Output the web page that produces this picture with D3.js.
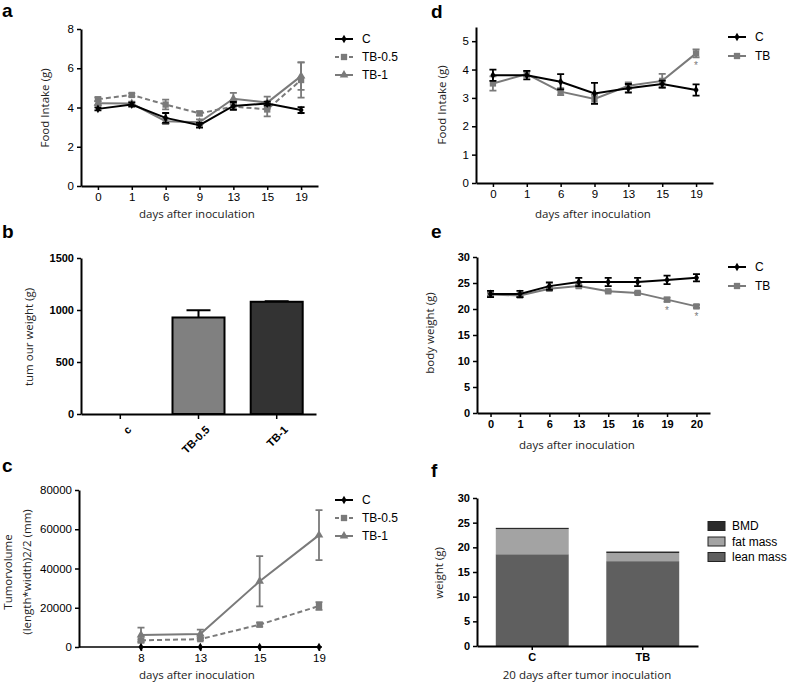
<!DOCTYPE html>
<html>
<head>
<meta charset="utf-8">
<script src="https://cdn.jsdelivr.net/npm/d3@7"></script>
<style>
  body { margin: 0; background: #fff; }
  svg { font-family: "Liberation Sans", Arial, sans-serif; }
  .axis path, .axis line { stroke: #000; }
  .axis path { stroke-width: 2; }
  .axis line { stroke-width: 1.5; }
  .axis text { fill: #000; font-size: 11.5px; }
  .bold text { font-weight: bold; font-size: 11px; }
  .title { font-family: "Open Sans", "DejaVu Sans", sans-serif; font-size: 11.5px; fill: #222; }
  .letter { font-size: 19px; font-weight: bold; }
  .legend text { font-size: 12px; }
</style>
</head>
<body>
<script>
// panel a: food intake, three groups
const daysA = ['0', '1', '6', '9', '13', '15', '19'];
const aC = [3.93, 4.15, 3.47, 3.1, 4.08, 4.2, 3.87];
const aCErr = [0.08, 0.1, 0.25, 0.12, 0.2, 0.1, 0.15];
const aTB05 = [4.42, 4.64, 4.15, 3.7, 4.05, 3.9, 5.4];
const aTB05Err = [0.1, 0.08, 0.25, 0.1, 0.15, 0.35, 0.9];
const aTB1 = [4.22, 4.2, 3.3, 3.25, 4.45, 4.25, 5.6];
const aTB1Err = [0.1, 0.1, 0.15, 0.15, 0.3, 0.3, 0.7];

// panel b: tumour weight
const groupsB = ['c', 'TB-0.5', 'TB-1'];
const tumourWeight = [0, 928, 1079];
const tumourErr = [0, 70, 6];

// panel c: tumour volume
const daysC = ['8', '13', '15', '19'];
const cC = [0, 0, 0, 0];
const cTB05 = [3400, 4000, 11400, 20900];
const cTB05Err = [500, 600, 1000, 2000];
const cTB1 = [6100, 6600, 33500, 57000];
const cTB1Err = [3800, 2300, 12800, 12700];

// panel d: food intake, C vs TB
const daysD = ['0', '1', '6', '9', '13', '15', '19'];
const dC = [3.8, 3.8, 3.57, 3.16, 3.34, 3.49, 3.28];
const dCErr = [0.2, 0.15, 0.27, 0.37, 0.15, 0.12, 0.2];
const dTB = [3.51, 3.84, 3.22, 2.96, 3.43, 3.6, 4.57];
const dTBErr = [0.25, 0.1, 0.12, 0.15, 0.12, 0.25, 0.14];

// panel e: body weight
const daysE = ['0', '1', '6', '13', '15', '16', '19', '20'];
const eC = [22.9, 22.9, 24.4, 25.2, 25.2, 25.2, 25.6, 26.0];
const eCErr = [0.6, 0.6, 0.7, 0.8, 0.8, 0.8, 0.8, 0.7];
const eTB = [22.8, 22.6, 23.9, 24.4, 23.4, 23.1, 21.8, 20.5];
const eTBErr = [0.3, 0.3, 0.3, 0.3, 0.2, 0.2, 0.4, 0.3];

// panel f: body composition
const groupsF = ['C', 'TB'];
const leanMass = [18.6, 17.2];
const fatMass = [5.1, 1.65];
const bmd = [0.25, 0.3];

const svg = d3.select('body').append('svg')
  .attr('width', 787)
  .attr('height', 683);

const GRAY = '#7a7a7a';

function yLabel(x, y, lines) {
  const t = svg.append('text').attr('class', 'title')
    .attr('transform', 'translate(' + x + ',' + y + ') rotate(-90)')
    .attr('text-anchor', 'middle');
  lines.forEach(function(l, i) {
    t.append('tspan').attr('x', 0).attr('dy', i === 0 ? 0 : 19).text(l);
  });
}

function xLabel(x, y, text) {
  svg.append('text').attr('class', 'title')
    .attr('x', x).attr('y', y).attr('text-anchor', 'middle').text(text);
}

function letter(x, y, t) {
  svg.append('text').attr('class', 'letter').attr('x', x).attr('y', y).text(t);
}

function marker(sel, shape, x, y, color) {
  let sym, size;
  if (shape === 'diamond') { sym = d3.symbolDiamond; size = 22; }
  else if (shape === 'square') { sym = d3.symbolSquare; size = 40; }
  else { sym = d3.symbolTriangle; size = 32; }
  sel.append('path')
    .attr('d', d3.symbol(sym, size)())
    .attr('transform', 'translate(' + x + ',' + y + ')')
    .attr('fill', color);
}

function legend(x, y, gap, items) {
  const g = svg.append('g').attr('class', 'legend');
  items.forEach(function(it, i) {
    const yy = y + i * gap;
    g.append('line').attr('x1', x).attr('x2', x + 18).attr('y1', yy).attr('y2', yy)
      .attr('stroke', it.color).attr('stroke-width', 2)
      .attr('stroke-dasharray', it.dash || null);
    marker(g, it.marker, x + 9, yy, it.color);
    g.append('text').attr('x', x + 27).attr('y', yy + 4).text(it.name);
  });
}

// line chart with error bars
function lineChart(o) {
  const x = d3.scalePoint().domain(o.days).range(o.xr).padding(o.pad);
  const y = d3.scaleLinear().domain(o.yd).range(o.yr);
  const g = svg.append('g');

  const ax = g.append('g').attr('class', 'axis' + (o.bold ? ' bold' : ''))
    .attr('transform', 'translate(0,' + o.yr[0] + ')')
    .call(d3.axisBottom(x).tickSize(4).tickSizeOuter(0));
  if (o.axisX) {
    ax.select('.domain').remove();
    ax.append('line').attr('x1', o.axisX[0]).attr('x2', o.axisX[1])
      .attr('stroke', '#000').attr('stroke-width', 2);
  }
  g.append('g').attr('class', 'axis' + (o.bold ? ' bold' : ''))
    .attr('transform', 'translate(' + (o.axisX ? o.axisX[0] : o.xr[0]) + ',0)')
    .call(d3.axisLeft(y).tickValues(o.ticks).tickSize(4).tickSizeOuter(0)
      .tickFormat(d3.format('d')));

  o.series.forEach(function(s) {
    const pts = o.days.map(function(d, i) { return { d: d, v: s.values[i], e: s.errs ? s.errs[i] : 0 }; });
    g.append('path').datum(pts)
      .attr('fill', 'none').attr('stroke', s.color).attr('stroke-width', 2)
      .attr('stroke-dasharray', s.dash || null)
      .attr('d', d3.line().x(function(p) { return x(p.d); }).y(function(p) { return y(p.v); }));
    pts.forEach(function(p) {
      if (p.e > 0) {
        const cx = x(p.d);
        g.append('path')
          .attr('d', 'M' + (cx - 3.5) + ',' + y(p.v + p.e) + 'H' + (cx + 3.5) +
            'M' + cx + ',' + y(p.v + p.e) + 'V' + y(p.v - p.e) +
            'M' + (cx - 3.5) + ',' + y(p.v - p.e) + 'H' + (cx + 3.5))
          .attr('stroke', s.color).attr('stroke-width', 1.8).attr('fill', 'none');
      }
      marker(g, s.marker, x(p.d), y(p.v), s.color);
    });
    if (s.stars) {
      s.stars.forEach(function(d) {
        const i = o.days.indexOf(d);
        g.append('text').attr('x', x(d)).attr('y', y(s.values[i] - s.errs[i]) + 12)
          .attr('text-anchor', 'middle').attr('font-size', 10).attr('fill', GRAY).text('*');
      });
    }
  });
  return g;
}

// ---- a ----
letter(2, 17, 'a');
lineChart({
  days: daysA, xr: [81, 318], pad: 0.5, yd: [0, 8], yr: [186, 29], ticks: [0, 2, 4, 6, 8],
  series: [
    { values: aTB05, errs: aTB05Err, color: GRAY, dash: '5,3', marker: 'square' },
    { values: aTB1, errs: aTB1Err, color: GRAY, marker: 'triangle' },
    { values: aC, errs: aCErr, color: '#000', marker: 'diamond' }
  ]
});
yLabel(49, 108, ['Food Intake (g)']);
xLabel(197, 218, 'days after inoculation');
legend(335, 39, 18, [
  { name: 'C', color: '#000', marker: 'diamond' },
  { name: 'TB-0.5', color: GRAY, marker: 'square', dash: '4,3' },
  { name: 'TB-1', color: GRAY, marker: 'triangle' }
]);

// ---- b ----
letter(2, 238, 'b');
(function() {
  const x = d3.scaleBand().domain(groupsB).range([81, 316]).paddingInner(0.335).paddingOuter(0.17);
  const y = d3.scaleLinear().domain([0, 1500]).range([414, 258]);
  const g = svg.append('g');
  const fills = ['#fff', '#808080', '#333333'];
  groupsB.forEach(function(c, i) {
    if (tumourWeight[i] <= 0) return;
    const cx = x(c) + x.bandwidth() / 2;
    g.append('path')
      .attr('d', 'M' + cx + ',' + y(tumourWeight[i]) + 'V' + y(tumourWeight[i] + tumourErr[i]) +
        'M' + (cx - 12) + ',' + y(tumourWeight[i] + tumourErr[i]) + 'H' + (cx + 12))
      .attr('stroke', '#000').attr('stroke-width', 2);
    g.append('rect')
      .attr('x', x(c)).attr('width', x.bandwidth())
      .attr('y', y(tumourWeight[i])).attr('height', y(0) - y(tumourWeight[i]))
      .attr('fill', fills[i]).attr('stroke', '#000').attr('stroke-width', 2);
  });
  g.append('g').attr('class', 'axis bold').attr('transform', 'translate(0,414)')
    .call(d3.axisBottom(x).tickSize(5).tickSizeOuter(0))
    .selectAll('text')
    .attr('text-anchor', 'end')
    .attr('dx', '-0.3em').attr('dy', '1.1em')
    .attr('font-size', 10.5)
    .attr('transform', 'rotate(-45)');
  g.append('g').attr('class', 'axis bold').attr('transform', 'translate(81,0)')
    .call(d3.axisLeft(y).tickValues([0, 500, 1000, 1500]).tickSize(4).tickSizeOuter(0)
      .tickFormat(d3.format('d')));
})();
yLabel(33, 337, ['tum our weight (g)']);

// ---- c ----
letter(2, 472, 'c');
lineChart({
  days: daysC, xr: [141, 319], pad: 0, axisX: [79, 322], yd: [0, 80000], yr: [647, 490],
  ticks: [0, 20000, 40000, 60000, 80000],
  series: [
    { values: cTB05, errs: cTB05Err, color: GRAY, dash: '5,3', marker: 'square' },
    { values: cTB1, errs: cTB1Err, color: GRAY, marker: 'triangle' },
    { values: cC, errs: null, color: '#000', marker: 'diamond' }
  ]
});
yLabel(12, 572, ['Tumorvolume', '(length*width)2/2 (mm)']);
xLabel(197, 679, 'days after inoculation');
legend(335, 500, 18, [
  { name: 'C', color: '#000', marker: 'diamond' },
  { name: 'TB-0.5', color: GRAY, marker: 'square', dash: '4,3' },
  { name: 'TB-1', color: GRAY, marker: 'triangle' }
]);

// ---- d ----
letter(431, 18, 'd');
lineChart({
  days: daysD, xr: [476, 713], pad: 0.5, yd: [0, 5.5], yr: [183, 27], ticks: [0, 1, 2, 3, 4, 5],
  series: [
    { values: dTB, errs: dTBErr, color: GRAY, marker: 'square', stars: ['19'] },
    { values: dC, errs: dCErr, color: '#000', marker: 'diamond' }
  ]
});
yLabel(446, 105, ['Food Intake (g)']);
xLabel(593, 218, 'days after inoculation');
legend(728, 37, 19, [
  { name: 'C', color: '#000', marker: 'diamond' },
  { name: 'TB', color: GRAY, marker: 'square' }
]);

// ---- e ----
letter(431, 238, 'e');
lineChart({
  days: daysE, xr: [477, 710], pad: 0.46, yd: [0, 30], yr: [413, 257], ticks: [0, 5, 10, 15, 20, 25, 30],
  bold: true,
  series: [
    { values: eTB, errs: eTBErr, color: GRAY, marker: 'square', stars: ['19', '20'] },
    { values: eC, errs: eCErr, color: '#000', marker: 'diamond' }
  ]
});
yLabel(434, 333, ['body weight (g)']);
xLabel(577, 449, 'days after inoculation');
legend(728, 267, 19, [
  { name: 'C', color: '#000', marker: 'diamond' },
  { name: 'TB', color: GRAY, marker: 'square' }
]);

// ---- f ----
letter(431, 477, 'f');
(function() {
  const x = d3.scaleBand().domain(groupsF).range([477, 698]).paddingInner(0.34).paddingOuter(0.17);
  const y = d3.scaleLinear().domain([0, 30]).range([646, 498]);
  const g = svg.append('g');
  const layers = [
    { name: 'lean mass', vals: leanMass, color: '#5f5f5f' },
    { name: 'fat mass', vals: fatMass, color: '#a3a3a3' },
    { name: 'BMD', vals: bmd, color: '#2b2b2b' }
  ];
  groupsF.forEach(function(c, i) {
    let base = 0;
    layers.forEach(function(l) {
      const top = base + l.vals[i];
      g.append('rect').attr('x', x(c)).attr('width', x.bandwidth())
        .attr('y', y(top)).attr('height', y(base) - y(top)).attr('fill', l.color);
      base = top;
    });
  });
  g.append('g').attr('class', 'axis bold').attr('transform', 'translate(0,646)')
    .call(d3.axisBottom(x).tickSize(4).tickSizeOuter(0));
  g.append('g').attr('class', 'axis bold').attr('transform', 'translate(477,0)')
    .call(d3.axisLeft(y).tickValues([0, 5, 10, 15, 20, 25, 30]).tickSize(4).tickSizeOuter(0));

  const lg = svg.append('g').attr('class', 'legend');
  layers.slice().reverse().forEach(function(l, i) {
    const yy = 526 + i * 15.5;
    lg.append('rect').attr('x', 708).attr('y', yy - 4.5).attr('width', 17).attr('height', 9)
      .attr('fill', l.color).attr('stroke', '#222').attr('stroke-width', 1);
    lg.append('text').attr('x', 732).attr('y', yy + 4).text(l.name);
  });
})();
yLabel(443, 573, ['weight (g)']);
xLabel(587, 679, '20 days after tumor inoculation');
</script>
</body>
</html>
